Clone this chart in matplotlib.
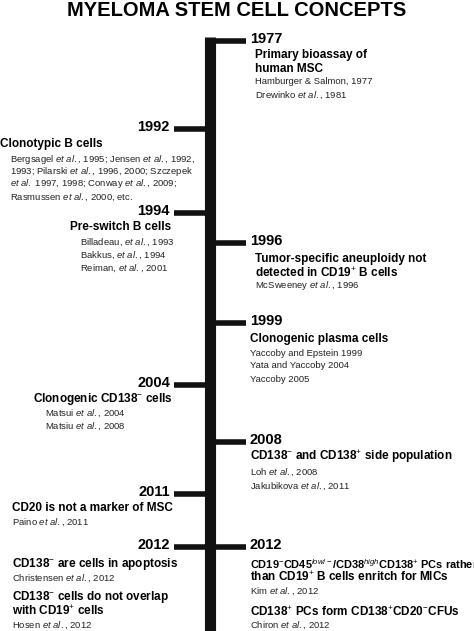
import matplotlib
matplotlib.use("Agg")
import matplotlib.pyplot as plt

plt.rcParams['font.family'] = ['Liberation Sans', 'DejaVu Sans']
plt.rcParams['mathtext.fontset'] = 'custom'
plt.rcParams['mathtext.rm'] = 'Liberation Sans'
plt.rcParams['mathtext.it'] = 'Liberation Sans:italic'
plt.rcParams['mathtext.bf'] = 'Liberation Sans:bold'

EA = r"$\it{et\ al.}$"

title = "MYELOMA STEM CELL CONCEPTS"

years = ["1977", "1992", "1994", "1996", "1999", "2004", "2008", "2011", "2012", "2012"]
sides = ["R", "L", "L", "R", "R", "L", "R", "L", "L", "R"]
year_y = [40, 128, 212, 242, 322, 384, 441, 493, 546, 546]

# (y, x, text, kind) items; kind b=bold headline, r=reference
items = [
    (55, 255, "Primary bioassay of", "b"), (69, 255, "human MSC", "b"),
    (82, 255, "Hamburger & Salmon, 1977", "r"), (95, 255, "Drewinko " + EA + ", 1981", "r"),
    (144, 0, "Clonotypic B cells", "b"),
    (160, 10, "Bergsagel " + EA + ", 1995; Jensen " + EA + ", 1992,", "r"),
    (172, 10, "1993; Pilarski " + EA + ", 1996, 2000; Szczepek", "r"),
    (184, 10, EA + " 1997, 1998; Conway " + EA + ", 2009;", "r"),
    (197, 10, "Rasmussen " + EA + ", 2000, etc.", "r"),
    (227, 70, "Pre-switch B cells", "b"),
    (242, 80, "Billadeau, " + EA + ", 1993", "r"), (255, 80, "Bakkus, " + EA + ", 1994", "r"),
    (268, 80, "Reiman, " + EA + ", 2001", "r"),
    (259, 255, "Tumor-specific aneuploidy not", "b"),
    (273, 255, r"detected in CD19$^{+}$ B cells", "b"),
    (286, 255, "McSweeney " + EA + ", 1996", "r"),
    (339, 250, "Clonogenic plasma cells", "b"),
    (353, 250, "Yaccoby and Epstein 1999", "r"), (366, 250, "Yata and Yaccoby 2004", "r"),
    (379, 250, "Yaccoby 2005", "r"),
    (399, 33, r"Clonogenic CD138$^{-}$ cells", "b"),
    (413, 45, "Matsui " + EA + ", 2004", "r"), (426, 45, "Matsiu " + EA + ", 2008", "r"),
    (457, 250, r"CD138$^{-}$ and CD138$^{+}$ side population", "b"),
    (472, 250, "Loh " + EA + ", 2008", "r"), (486, 250, "Jakubikova " + EA + ", 2011", "r"),
    (508, 12, "CD20 is not a marker of MSC", "b"),
    (522, 12, "Paino " + EA + ", 2011", "r"),
    (564, 12, r"CD138$^{-}$ are cells in apoptosis", "b"),
    (578, 12, "Christensen " + EA + ", 2012", "r"),
    (597, 12, r"CD138$^{-}$ cells do not overlap", "b"),
    (611, 12, r"with CD19$^{+}$ cells", "b"),
    (625, 12, "Hosen " + EA + ", 2012", "r"),
    (564, 250, r"CD19$^{-}$CD45$^{low/-}$/CD38$^{high}$CD138$^{+}$ PCs rather", "s"),
    (577, 250, r"than CD19$^{+}$ B cells enritch for MICs", "b"),
    (591, 250, "Kim " + EA + ", 2012", "r"),
    (612, 250, r"CD138$^{+}$ PCs form CD138$^{+}$CD20$^{-}$CFUs", "b"),
    (625, 250, "Chiron " + EA + ", 2012", "r"),
]

fig = plt.figure(figsize=(4.74, 6.31), dpi=100)
ax = fig.add_axes([0, 0, 1, 1])
ax.set_xlim(0, 474)
ax.set_ylim(631, 0)
ax.axis('off')

ax.text(237, 10, title, ha='center', va='center', fontsize=14.5, fontweight='bold')
ax.plot([210, 210], [37, 631], color='#111111', lw=8, solid_capstyle='butt')

for yr, sd, y in zip(years, sides, year_y):
    if sd == "R":
        ax.plot([210, 246], [y + 1, y + 1], color='#111111', lw=4, solid_capstyle='butt')
        ax.text(250, y - 1, yr, ha='left', va='center', fontsize=10.5, fontweight='bold')
    else:
        ax.plot([174, 210], [y + 1, y + 1], color='#111111', lw=4, solid_capstyle='butt')
        ax.text(170, y - 1, yr, ha='right', va='center', fontsize=10.5, fontweight='bold')

for y, x, t, k in items:
    if k == "b":
        ax.text(x, y, t, ha='left', va='center', fontsize=8.5, fontweight='bold')
    elif k == "s":
        ax.text(x, y, t, ha='left', va='center', fontsize=7.9, fontweight='bold')
    else:
        ax.text(x, y, t, ha='left', va='center', fontsize=6.8, color='#222222')

fig.savefig("out.png", dpi=100)
